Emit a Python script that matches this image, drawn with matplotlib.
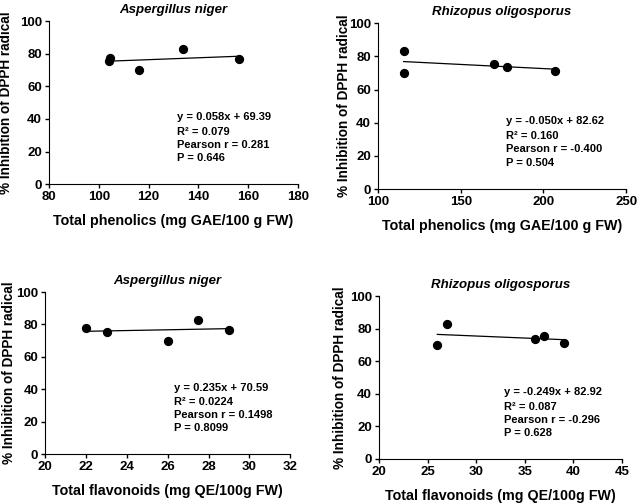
import matplotlib.pyplot as plt

plt.rcParams['font.family'] = ['Liberation Sans', 'DejaVu Sans']
plt.rcParams['font.weight'] = 'bold'

# ---- data ----
an_phen_x = [104.5, 104, 116, 134, 156.5]
an_phen_y = [77.5, 75.5, 70, 83, 76.5]
ro_phen_x = [115.5, 116, 170, 178, 207]
ro_phen_y = [83, 70, 75.5, 73.5, 71.2]
an_flav_x = [22, 23, 26, 27.5, 29]
an_flav_y = [77.5, 75.5, 70, 83, 76.5]
ro_flav_x = [26, 27, 36, 37, 39]
ro_flav_y = [70, 83, 73.5, 75.5, 71.2]

# slope, intercept of the fitted lines
fits = [(0.058, 69.39), (-0.050, 82.62), (0.235, 70.59), (-0.249, 82.92)]
stats = [
    ["y = 0.058x + 69.39", "R² = 0.079", "Pearson r = 0.281", "P = 0.646"],
    ["y = -0.050x + 82.62", "R² = 0.160", "Pearson r = -0.400", "P = 0.504"],
    ["y = 0.235x + 70.59", "R² = 0.0224", "Pearson r = 0.1498", "P = 0.8099"],
    ["y = -0.249x + 82.92", "R² = 0.087", "Pearson r = -0.296", "P = 0.628"],
]
titles = ["Aspergillus niger", "Rhizopus oligosporus", "Aspergillus niger", "Rhizopus oligosporus"]
xlabels = ["Total phenolics (mg GAE/100 g FW)"] * 2 + ["Total flavonoids (mg QE/100g FW)"] * 2
xticks = [[80, 100, 120, 140, 160, 180], [100, 150, 200, 250],
          [20, 22, 24, 26, 28, 30, 32], [20, 25, 30, 35, 40, 45]]
yticks = [0, 20, 40, 60, 80, 100]

xs = [an_phen_x, ro_phen_x, an_flav_x, ro_flav_x]
ys = [an_phen_y, ro_phen_y, an_flav_y, ro_flav_y]

# axes boxes in figure fraction
boxes = [
    [0.0768, 0.634, 0.390, 0.324],
    [0.5925, 0.624, 0.389, 0.330],
    [0.071, 0.0974, 0.384, 0.322],
    [0.594, 0.0875, 0.381, 0.324],
]
text_x = [0.514, 0.516, 0.524, 0.514]
line_y = [0.41, 0.32, 0.24, 0.16]
ylab_x = [-0.145, -0.109, -0.118, -0.132]

fig = plt.figure(figsize=(6.38, 5.03), dpi=100)

for i in range(4):
    ax = fig.add_axes(boxes[i])
    ax.scatter(xs[i], ys[i], s=32, color='black', zorder=3)
    lo, hi = min(xs[i]), max(xs[i])
    m, b = fits[i]
    ax.plot([lo, hi], [m * lo + b, m * hi + b], color='black', lw=0.9)

    ax.set_xlim(xticks[i][0], xticks[i][-1])
    ax.set_ylim(0, 100)
    ax.set_xticks(xticks[i])
    ax.set_yticks(yticks)
    ax.spines['top'].set_visible(False)
    ax.spines['right'].set_visible(False)
    ax.tick_params(direction='out', length=3, width=1, labelsize=9.5, pad=2)
    for lab in ax.get_xticklabels() + ax.get_yticklabels():
        lab.set_fontweight('bold')

    ax.set_title(titles[i], fontsize=9.5, style='italic', fontweight='bold', pad=6)
    ax.set_xlabel(xlabels[i], fontsize=10.3, fontweight='bold', labelpad=8)
    ax.set_ylabel("% Inhibition of DPPH radical", fontsize=9.8, fontweight='bold')
    ax.yaxis.set_label_coords(ylab_x[i], 0.5)

    for line, yy in zip(stats[i], line_y):
        ax.text(text_x[i], yy, line, transform=ax.transAxes,
                fontsize=8, fontweight='bold', va='center', ha='left')

fig.savefig("out.png", dpi=100)
